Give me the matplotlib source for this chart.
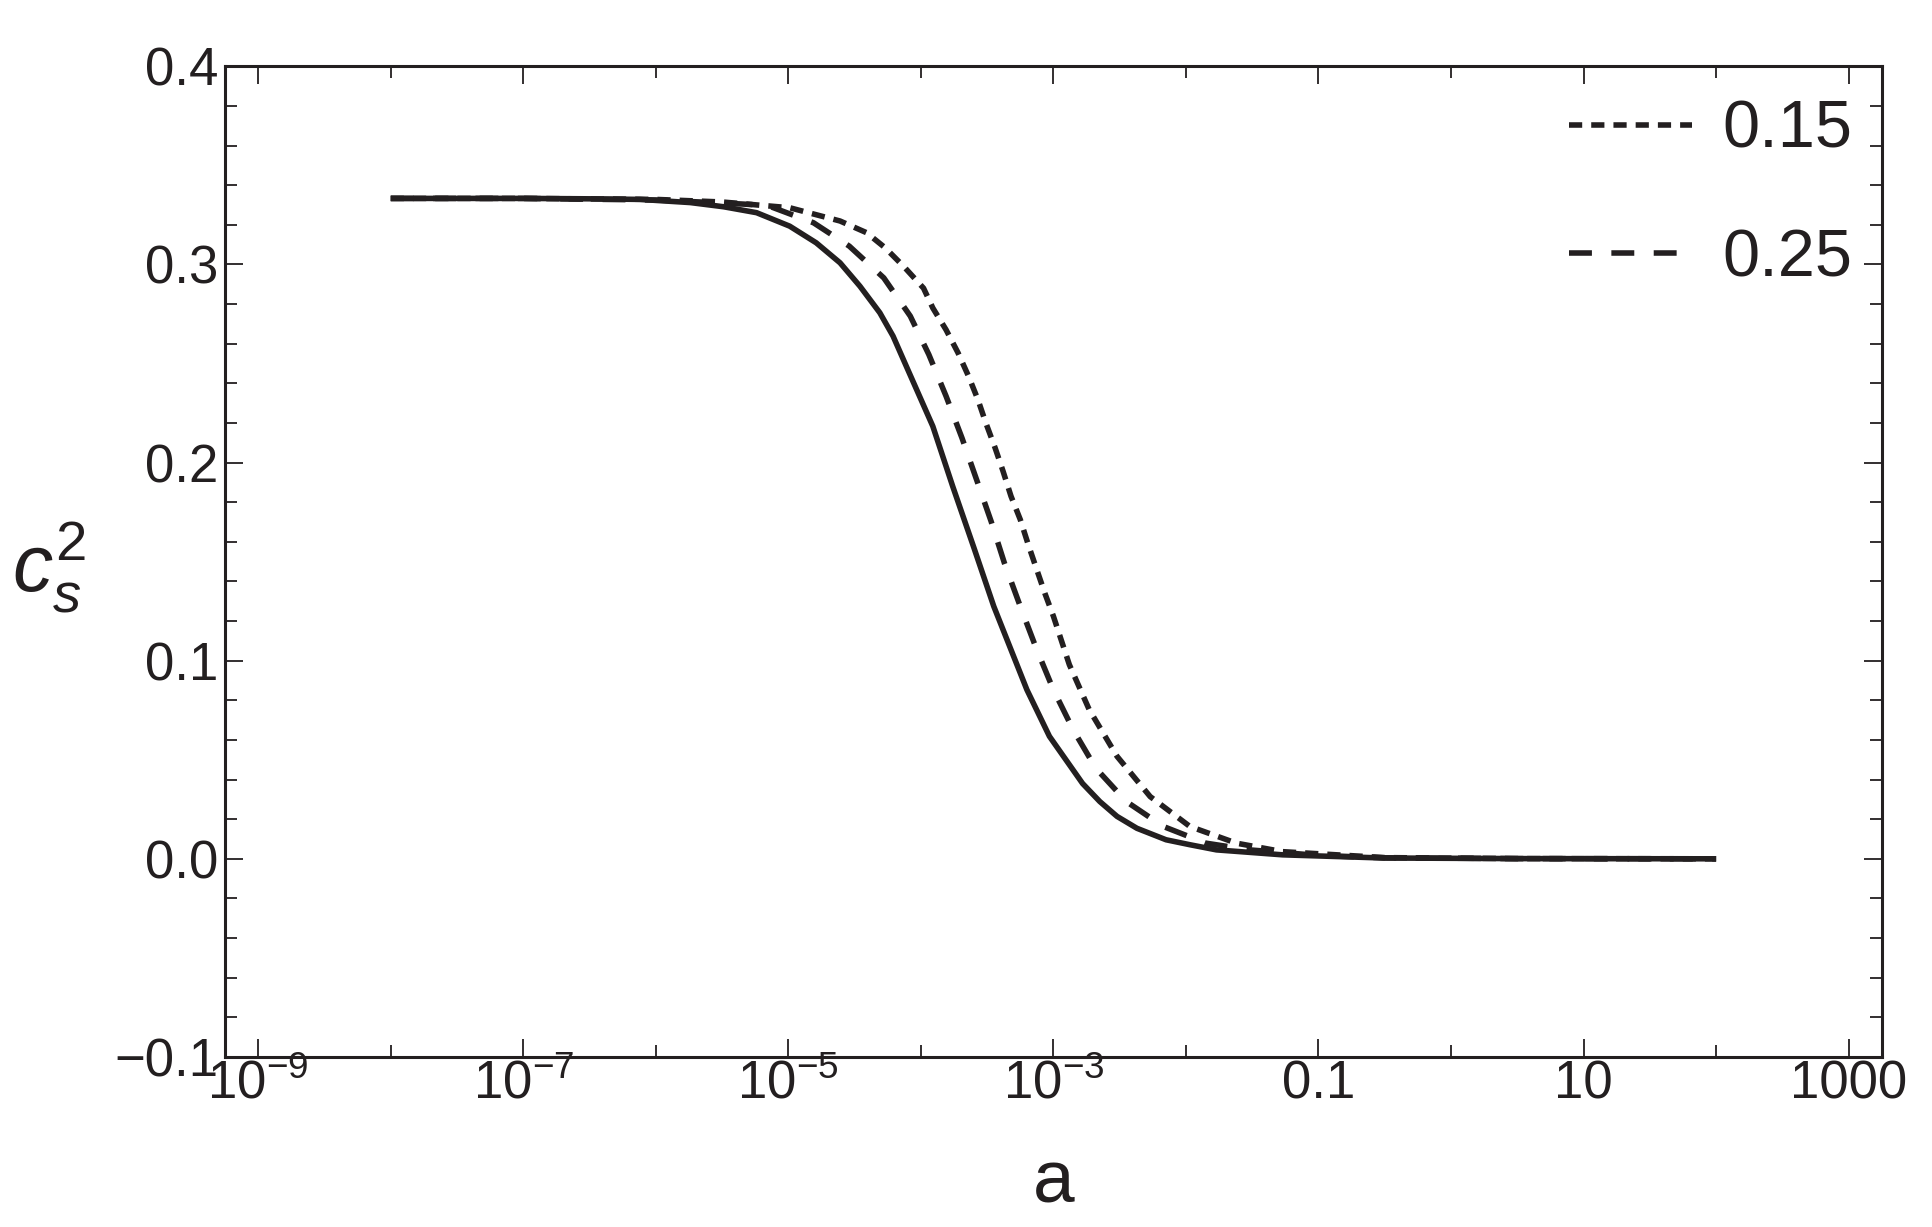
import numpy as np
import matplotlib
matplotlib.use("Agg")
import matplotlib.pyplot as plt

plt.rcParams['font.family'] = ['Liberation Sans', 'DejaVu Sans']
plt.rcParams['mathtext.fontset'] = 'custom'
plt.rcParams['mathtext.rm'] = 'Liberation Sans'
plt.rcParams['mathtext.it'] = 'Liberation Sans:italic'
plt.rcParams['lines.scale_dashes'] = False

# ---------- data (log10 a, c_s^2) ----------

solid_loga = [-8.0, -7.0, -6.5, -6.12, -5.74, -5.49, -5.24, -4.99, -4.79, -4.61,
              -4.46, -4.31, -4.21, -4.11, -3.91, -3.76, -3.60, -3.45, -3.20,
              -3.03, -2.78, -2.65, -2.52, -2.37, -2.15, -1.97, -1.77, -1.27,
              -0.51, 0.5, 2.0]
solid_cs2 = [0.3333, 0.3333, 0.3331, 0.3328, 0.3312, 0.3291, 0.3261, 0.3193,
             0.3109, 0.3008, 0.2890, 0.2756, 0.2638, 0.2486, 0.2183, 0.1880,
             0.1570, 0.1274, 0.0853, 0.0618, 0.0380, 0.0289, 0.0214, 0.0154,
             0.0096, 0.0071, 0.0045, 0.0020, 0.0004, 0.0001, 0.0]

dot_loga = [-8.0, -7.0, -6.0, -5.5, -4.99, -4.61, -4.41, -4.27, -4.13, -3.98,
            -3.91, -3.81, -3.72, -3.64, -3.57, -3.51, -3.44, -3.38, -3.32,
            -3.25, -3.19, -3.13, -3.065, -3.00, -2.88, -2.73, -2.52, -2.27,
            -1.97, -1.62, -1.27, -0.5, 0.5, 2.0]
dot_cs2 = [0.3333, 0.3333, 0.3328, 0.3315, 0.3286, 0.3219, 0.3160, 0.3084,
           0.2990, 0.2880, 0.2780, 0.2670, 0.2554, 0.2435, 0.2318, 0.2200,
           0.2074, 0.1956, 0.1830, 0.1712, 0.1586, 0.1468, 0.1341, 0.1224,
           0.0980, 0.0753, 0.0517, 0.0314, 0.0163, 0.0079, 0.0036, 0.0006,
           0.0001, 0.0]

dash_loga = [-8.0, -7.0, -6.0, -5.5, -5.16, -4.81, -4.54, -4.28, -4.08, -3.94,
             -3.81, -3.69, -3.58, -3.47, -3.37, -3.25, -3.13, -3.00, -2.85,
             -2.68, -2.45, -2.17, -1.85, -1.52, -1.0, -0.5, 0.5, 2.0]
dash_cs2 = [0.3333, 0.3333, 0.3325, 0.3310, 0.3298, 0.3210, 0.3092, 0.2932,
            0.2739, 0.2545, 0.2335, 0.2124, 0.1914, 0.1703, 0.1493, 0.1274,
            0.1063, 0.0853, 0.0650, 0.0457, 0.0289, 0.0163, 0.0079, 0.0045,
            0.0017, 0.0005, 0.0001, 0.0]

legend_labels = ['0.15', '0.25']

xtick_pos = [1e-9, 1e-7, 1e-5, 1e-3, 1e-1, 1e1, 1e3]
xtick_labels = [r'$10^{-9}$', r'$10^{-7}$', r'$10^{-5}$', r'$10^{-3}$', '0.1', '10', '1000']
xminor_pos = [1e-8, 1e-6, 1e-4, 1e-2, 1e0, 1e2]

ink = '#231f20'

# ---------- plot ----------

fig = plt.figure(figsize=(19.32, 12.27), dpi=100)
ax = fig.add_axes([0.1165, 0.1386, 0.8575, 0.8074])

ax.plot(10 ** np.array(solid_loga), solid_cs2, color=ink, lw=4.0, solid_capstyle='butt')
l1, = ax.plot(10 ** np.array(dot_loga), dot_cs2, color=ink, lw=4.0,
              dashes=(9.5, 6.5), dash_capstyle='butt')
l2, = ax.plot(10 ** np.array(dash_loga), dash_cs2, color=ink, lw=4.0,
              dashes=(16.5, 14), dash_capstyle='butt')

ax.set_xscale('log')
ax.set_xlim(10 ** -9.25, 10 ** 3.25)
ax.set_ylim(-0.1, 0.4)

ax.set_xticks(xtick_pos)
ax.set_xticklabels(xtick_labels)
ax.set_xticks(xminor_pos, minor=True)
ax.set_xticklabels([], minor=True)
ax.set_yticks([-0.1, 0.0, 0.1, 0.2, 0.3, 0.4])
ax.set_yticklabels(['\u22120.1', '0.0', '0.1', '0.2', '0.3', '0.4'])
ax.set_yticks(np.arange(-0.08, 0.4, 0.02), minor=True)

ax.tick_params(which='both', direction='in', top=True, right=True, color=ink,
               labelcolor=ink, width=1.3)
ax.tick_params(which='major', length=13, labelsize=38)
ax.tick_params(which='minor', length=8.5)
ax.tick_params(axis='x', which='major', pad=2)
ax.tick_params(axis='y', which='major', pad=5)

for s in ax.spines.values():
    s.set_linewidth(2.2)
    s.set_color(ink)

ax.set_xlabel('a', fontsize=54, color=ink)
ax.xaxis.set_label_coords(0.5, -0.127)
ax.xaxis.label.set_va('center')
ax.set_ylabel(r'$c_s^2$', fontsize=58, color=ink, rotation=0)
ax.yaxis.set_label_coords(-0.106, 0.494)
ax.yaxis.label.set_va('center')
ax.yaxis.label.set_ha('center')

leg = ax.legend([l1, l2], legend_labels, loc='upper right',
                bbox_to_anchor=(0.982, 0.966), frameon=False, fontsize=48,
                handlelength=1.85, handletextpad=0.45, labelspacing=1.0,
                borderpad=0, borderaxespad=0)
for t in leg.get_texts():
    t.set_color(ink)

fig.savefig('out.png', dpi=100)
